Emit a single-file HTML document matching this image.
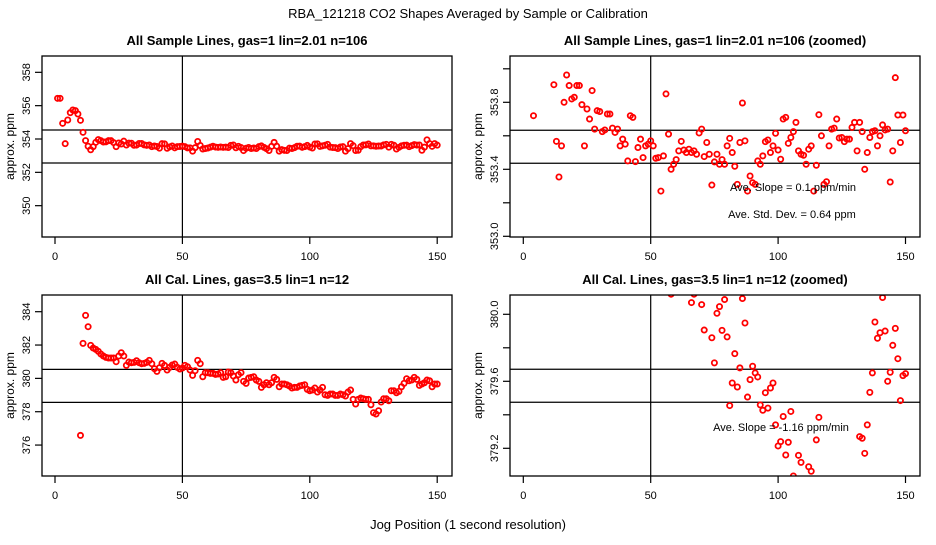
<!DOCTYPE html>
<html><head><meta charset="utf-8"><style>
body{margin:0;background:#fff}
svg text{font-family:"Liberation Sans",sans-serif;fill:#000}
</style></head><body>
<svg id="fig" width="936" height="540" viewBox="0 0 936 540" xmlns="http://www.w3.org/2000/svg">
<rect width="936" height="540" fill="#fff"/>
<text x="468" y="18" font-size="13" text-anchor="middle">RBA_121218  CO2 Shapes Averaged by Sample or Calibration</text>
<text x="468" y="529" font-size="13" text-anchor="middle">Jog Position (1 second resolution)</text>
</svg>
<script>
// Sample series (index -> ppm)
const sampleIdx = [1,2,3,4,5,6,7,8,9,10,11,12,13,14,15,16,17,18,19,20,21,22,23,24,25,26,27,28,29,30,31,32,33,34,35,36,37,38,39,40,41,42,43,44,45,46,47,48,49,50,51,52,53,54,55,56,57,58,59,60,61,62,63,64,65,66,67,68,69,70,71,72,73,74,75,76,77,78,79,80,81,82,83,84,85,86,87,88,89,90,91,92,93,94,95,96,97,98,99,100,101,102,103,104,105,106,107,108,109,110,111,112,113,114,115,116,117,118,119,120,121,122,123,124,125,126,127,128,129,130,131,132,133,134,135,136,137,138,139,140,141,142,143,144,145,146,147,148,149,150];
const sampleVals = [356.44,356.44,354.94,353.72,355.14,355.58,355.74,355.7,355.5,355.12,354.4,353.905,353.567,353.354,353.54,353.80,353.963,353.90,353.82,353.83,353.90,353.90,353.786,353.54,353.76,353.7,353.87,353.64,353.75,353.745,353.625,353.635,353.73,353.73,353.646,353.62,353.64,353.54,353.58,353.55,353.45,353.72,353.71,353.446,353.53,353.58,353.47,353.54,353.55,353.57,353.54,353.466,353.47,353.27,353.48,353.85,353.61,353.40,353.43,353.458,353.51,353.567,353.515,353.50,353.52,353.50,353.51,353.49,353.617,353.64,353.476,353.56,353.49,353.306,353.444,353.49,353.43,353.458,353.43,353.54,353.585,353.50,353.418,353.31,353.56,353.796,353.57,353.27,353.36,353.32,353.31,353.45,353.43,353.48,353.565,353.575,353.50,353.54,353.615,353.515,353.46,353.70,353.71,353.555,353.59,353.625,353.68,353.51,353.49,353.484,353.43,353.52,353.54,353.27,353.424,353.726,353.60,353.31,353.326,353.54,353.64,353.646,353.70,353.587,353.59,353.565,353.58,353.58,353.65,353.68,353.51,353.68,353.625,353.40,353.50,353.59,353.625,353.63,353.54,353.60,353.665,353.635,353.64,353.324,353.51,353.947,353.724,353.56,353.724,353.63];
// Calibration series
const calIdx = [10,11,12,13,14,15,16,17,18,19,20,21,22,23,24,25,26,27,28,29,30,31,32,33,34,35,36,37,38,39,40,41,42,43,44,45,46,47,48,49,50,51,52,53,54,55,56,57,58,59,60,61,62,63,64,65,66,67,68,69,70,71,72,73,74,75,76,77,78,79,80,81,82,83,84,85,86,87,88,89,90,91,92,93,94,95,96,97,98,99,100,101,102,103,104,105,106,107,108,109,110,111,112,113,114,115,116,117,118,119,120,121,122,123,124,125,126,127,128,129,130,131,132,133,134,135,136,137,138,139,140,141,142,143,144,145,146,147,148,149,150];
const calVals = [376.58,382.1,383.78,383.1,381.98,381.82,381.74,381.62,381.46,381.34,381.26,381.22,381.22,381.22,381.0,381.34,381.54,381.34,380.78,380.98,380.94,380.96,381.06,380.94,380.88,380.9,380.96,381.08,380.88,380.58,380.42,380.64,380.9,380.78,380.5,380.66,380.8,380.86,380.66,380.56,380.62,380.78,380.7,380.5,380.18,380.46,381.08,380.88,380.1,380.34,380.34,380.3,380.3,380.24,380.26,380.34,380.06,380.1,380.38,380.34,380.14,379.9,380.22,380.34,379.82,379.7,380.02,380.06,380.1,379.9,379.82,379.46,379.62,379.74,379.62,379.74,380.06,379.94,379.5,379.66,379.66,379.62,379.54,379.42,379.46,379.46,379.54,379.58,379.62,379.34,379.26,379.3,379.42,379.18,379.3,379.46,379.02,378.98,379.06,379.06,378.98,378.98,379.06,379.02,378.94,379.18,379.3,378.74,378.46,378.74,378.82,378.78,378.74,378.74,378.42,377.94,377.86,378.06,378.58,378.78,378.78,378.66,379.26,379.26,379.14,379.22,379.5,379.7,379.98,379.86,379.9,380.06,379.94,379.58,379.66,379.74,379.9,379.86,379.5,379.66,379.66];
// Calibration zoomed-panel readings
const calZIdx = [58,66,67,70,71,74,75,76,77,78,79,80,81,82,83,84,85,86,87,88,89,90,91,92,93,94,95,96,97,98,99,100,101,102,103,104,105,106,108,109,112,113,115,116,132,133,134,135,136,137,138,139,140,141,142,143,144,145,146,147,148,149,150];
const calZVals = [380.12,380.07,380.12,380.058,379.906,379.86,379.71,380.006,380.046,379.904,380.088,379.865,379.455,379.59,379.765,379.566,379.68,380.094,379.948,379.506,379.61,379.69,379.65,379.626,379.459,379.427,379.532,379.44,379.56,379.59,379.34,379.214,379.24,379.39,379.16,379.236,379.42,379.035,379.158,379.116,379.09,379.063,379.25,379.385,379.27,379.26,379.17,379.34,379.534,379.65,379.954,379.857,379.89,380.1,379.9,379.6,379.654,379.815,379.916,379.735,379.485,379.634,379.646];
const xTicks = [0,50,100,150];
const ytTL = [350,352,354,356,358];
const ytTR = [353.0,353.2,353.4,353.6,353.8,354.0];
const ylTR = [353.0,353.4,353.8];
const ytBL = [376,378,380,382,384];
const ytBR = [379.2,379.4,379.6,379.8,380.0];
const ylBR = [379.2,379.6,380.0];

const NS='http://www.w3.org/2000/svg';
const svg=document.getElementById('fig');
function mk(tag,attrs,parent){const e=document.createElementNS(NS,tag);for(const k in attrs)e.setAttribute(k,attrs[k]);(parent||svg).appendChild(e);return e;}

function panel(cfg){
  const g=mk('g',{});
  
  
  const xs=v=>cfg.x0+v*2.548;
  const ys=v=>cfg.yRefPx-(v-cfg.yRefVal)*cfg.ppu;
  const cid='clip-'+cfg.name;
  const cp=mk('clipPath',{id:cid},g);
  mk('rect',{x:cfg.l,y:cfg.t,width:cfg.r-cfg.l,height:cfg.b-cfg.t},cp);
  const t=mk('text',{x:(cfg.l+cfg.r)/2,y:cfg.t-11,'font-size':13,'font-weight':'bold','text-anchor':'middle'},g);
  t.textContent=cfg.title;
  
  
  const yl=mk('text',{x:0,y:0,'font-size':12,'text-anchor':'middle',transform:`translate(${cfg.l-28},${(cfg.t+cfg.b)/2}) rotate(-90)`},g);
  yl.textContent='approx. ppm';
  
  
  const lg=mk('g',{'clip-path':`url(#${cid})`},g);
  cfg.lines.forEach(v=>{const ln=mk('line',{x1:cfg.l,x2:cfg.r,y1:ys(v),y2:ys(v),stroke:'#000','stroke-width':1.2},lg);
    
    });
  const vl=mk('line',{x1:xs(50),x2:xs(50),y1:cfg.t,y2:cfg.b,stroke:'#000','stroke-width':1.2},lg);
  
  
  cfg.idx.forEach((ix,i)=>{const c=mk('circle',{cx:xs(ix),cy:ys(cfg.vals[i]),r:2.6,fill:'none',stroke:'#f00','stroke-width':1.8},lg);
    
    });
  const bx=mk('rect',{x:cfg.l,y:cfg.t,width:cfg.r-cfg.l,height:cfg.b-cfg.t,fill:'none',stroke:'#000','stroke-width':1.3},g);
  
  
  xTicks.forEach(v=>{mk('line',{x1:xs(v),x2:xs(v),y1:cfg.b,y2:cfg.b+7,stroke:'#000','stroke-width':1.2},g);
    const tl=mk('text',{x:xs(v),y:cfg.b+23,'font-size':11,'text-anchor':'middle'},g);tl.textContent=v;
    
    });
  cfg.yt.forEach(v=>{mk('line',{x1:cfg.l-7,x2:cfg.l,y1:ys(v),y2:ys(v),stroke:'#000','stroke-width':1.2},g);});
  cfg.yl.forEach(v=>{const tl=mk('text',{x:0,y:0,'font-size':11,'text-anchor':'middle',transform:`translate(${cfg.l-12},${ys(v)}) rotate(-90)`},g);
    tl.textContent=cfg.fmt(v);
    
    });
  (cfg.notes||[]).forEach(n=>{const tx=mk('text',{x:n[0],y:n[1],'font-size':11,'text-anchor':'middle'},g);tx.textContent=n[2];
    
    });
}
const f0=v=>String(Math.round(v)), f1=v=>v.toFixed(1);
panel({name:'sample-panel',title:'All Sample Lines, gas=1 lin=2.01 n=106',l:42,r:452,t:56,b:237,x0:55,yRefVal:354,yRefPx:139,ppu:16.67,
  yt:ytTL,yl:ytTL,fmt:f0,lines:[354.54,352.56],idx:sampleIdx,vals:sampleVals});
panel({name:'sample-zoomed-panel',title:'All Sample Lines, gas=1 lin=2.01 n=106 (zoomed)',l:510,r:920,t:56,b:237,x0:523.3,yRefVal:353.8,yRefPx:102.3,ppu:167.5,
  yt:ytTR,yl:ylTR,fmt:f1,lines:[353.633,353.436],idx:sampleIdx,vals:sampleVals,
  notes:[[793,191,'Ave. Slope = 0.1  ppm/min'],[792,218,'Ave. Std. Dev. = 0.64  ppm']]});
panel({name:'cal-panel',title:'All Cal. Lines, gas=3.5 lin=1 n=12',l:42,r:452,t:295,b:476,x0:55,yRefVal:384,yRefPx:311.7,ppu:16.67,
  yt:ytBL,yl:ytBL,fmt:f0,lines:[380.54,378.56],idx:calIdx,vals:calVals});
panel({name:'cal-zoomed-panel',title:'All Cal. Lines, gas=3.5 lin=1 n=12 (zoomed)',l:510,r:920,t:295,b:476,x0:523.3,yRefVal:380,yRefPx:314.3,ppu:167.5,
  yt:ytBR,yl:ylBR,fmt:f1,lines:[379.672,379.475],idx:calZIdx,vals:calZVals,
  notes:[[781,431,'Ave. Slope = -1.16  ppm/min']]});
</script>
</body></html>
